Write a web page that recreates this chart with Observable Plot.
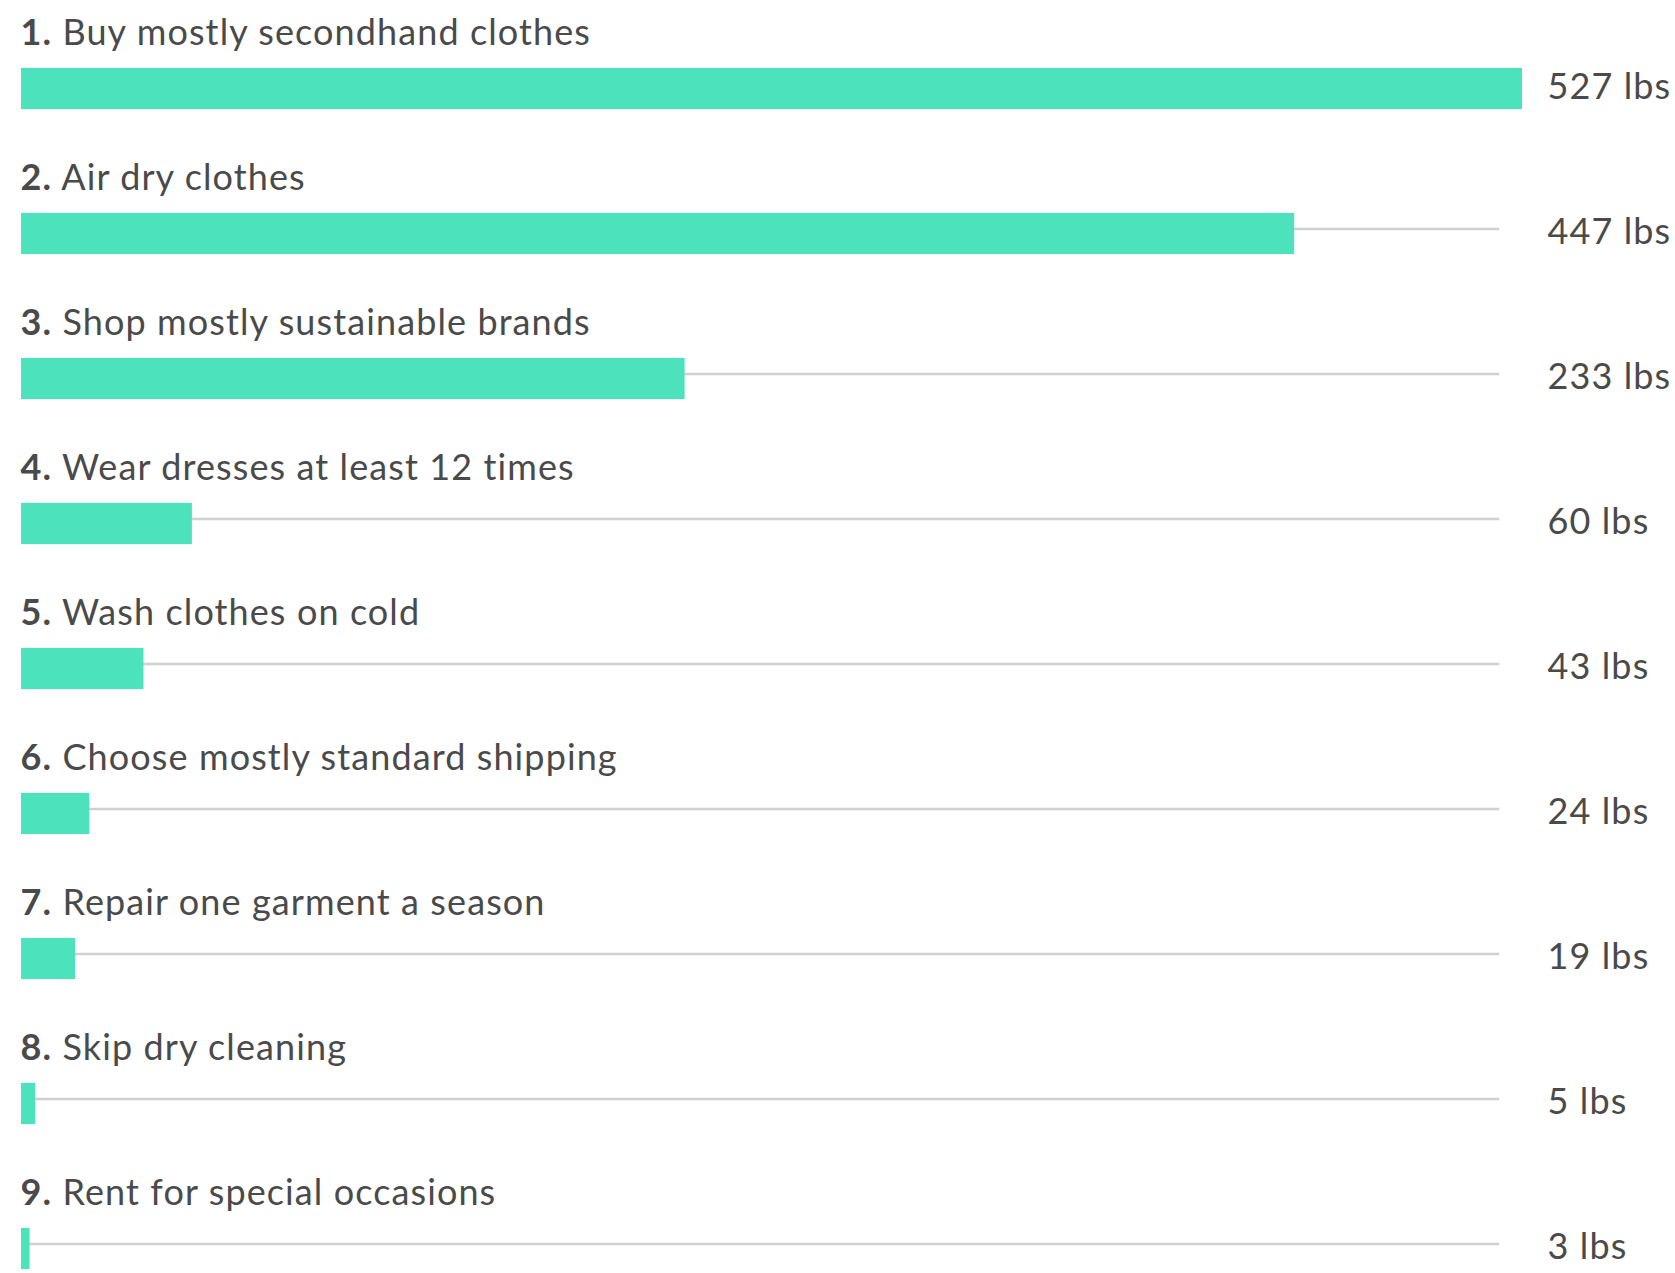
<!DOCTYPE html>
<html>
<head>
<meta charset="utf-8">
<script src="https://cdn.jsdelivr.net/npm/d3@7"></script>
<script src="https://cdn.jsdelivr.net/npm/@observablehq/plot@0.6"></script>
<style>
  html, body { margin: 0; padding: 0; background: #fff; }
  #chart svg { display: block; }
</style>
</head>
<body>
<div id="chart"></div>
<script>
const ranks = [1, 2, 3, 4, 5, 6, 7, 8, 9];
const actions = [
  "Buy mostly secondhand clothes",
  "Air dry clothes",
  "Shop mostly sustainable brands",
  "Wear dresses at least 12 times",
  "Wash clothes on cold",
  "Choose mostly standard shipping",
  "Repair one garment a season",
  "Skip dry cleaning",
  "Rent for special occasions"
];
const savings = [527, 447, 233, 60, 43, 24, 19, 5, 3];
const unit = "lbs";
const trackEnd = [519];

const data = actions.map((a, i) => ({rank: ranks[i], action: a, value: savings[i]}));
const xMax = d3.max(savings);

const textColor = "#4a4a4a";
const barColor = "#4ce2bc";
const font = "Lato, 'Open Sans', sans-serif";

const pitch = 145.8;
const c0 = 85.5;
const n = actions.length;

const chart = Plot.plot({
  width: 1675,
  height: 1273,
  marginLeft: 21,
  marginRight: 153,
  marginTop: 0,
  marginBottom: 0,
  style: {fontFamily: font, background: "#fff", overflow: "visible"},
  x: {domain: [0, xMax], range: [21, 1522], axis: null},
  y: {type: "band", domain: actions, range: [c0 - pitch / 2, c0 + (n - 0.5) * pitch], padding: 0, axis: null},
  marks: [
    Plot.ruleY(data, {y: "action", x1: 0, x2: () => trackEnd[0], stroke: "#d0d0d0", strokeWidth: 2.5, dy: -5}),
    Plot.barX(data, {y: "action", x1: 0, x2: "value", fill: barColor, insetTop: 51.9, insetBottom: 51.9}),
    Plot.text(data, {
      y: "action", x: 0,
      text: d => `${d.rank}. ${d.action}`,
      textAnchor: "start", lineAnchor: "bottom",
      dy: -44, dx: -1,
      fontSize: 36, fill: textColor
    }),
    Plot.text(data, {
      y: "action", x: () => xMax,
      text: d => `${d.value} ${unit}`,
      textAnchor: "start", lineAnchor: "middle",
      dx: 25, dy: -2,
      fontSize: 36, fill: textColor
    })
  ]
});

document.getElementById("chart").appendChild(chart);

// letter spacing to approximate the wider original typeface
chart.querySelectorAll("text").forEach(t => t.setAttribute("letter-spacing", "1.1"));

// Bold rank numbers via tspans
const ns = "http://www.w3.org/2000/svg";
chart.querySelectorAll("text").forEach(t => {
  const s = t.textContent;
  const m = s.match(/^(\d+\.)(\s.*)$/);
  if (!m) return;
  while (t.firstChild) t.removeChild(t.firstChild);
  const b = document.createElementNS(ns, "tspan");
  b.setAttribute("font-weight", "bold");
  b.textContent = m[1];
  const r = document.createElementNS(ns, "tspan");
  r.textContent = m[2];
  t.appendChild(b);
  t.appendChild(r);
});
</script>
</body>
</html>
